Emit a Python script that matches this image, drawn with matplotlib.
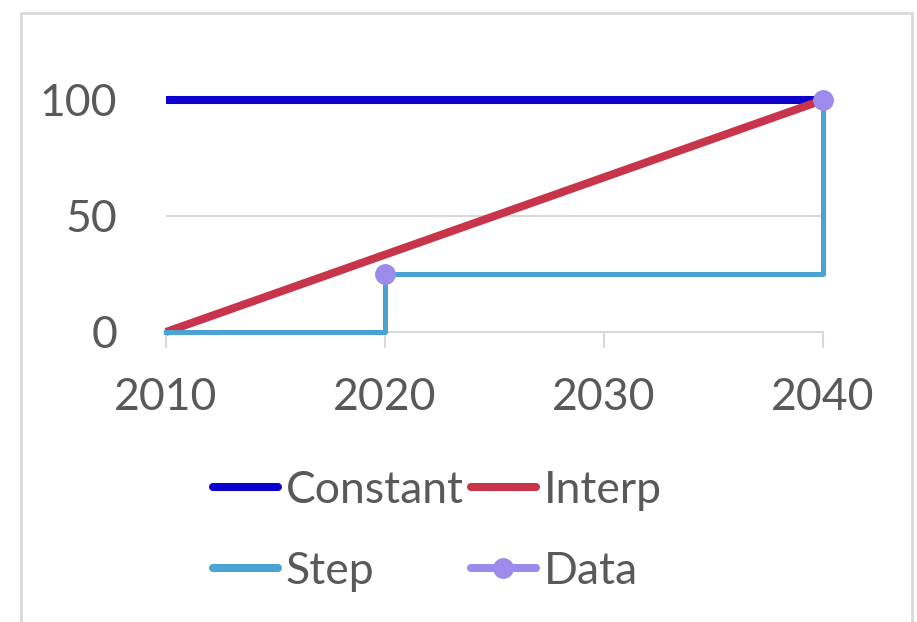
import matplotlib
matplotlib.use("Agg")
import matplotlib.pyplot as plt
from matplotlib.lines import Line2D
from matplotlib.patches import Rectangle

plt.rcParams["font.family"] = ["Lato", "DejaVu Sans"]

years = [2010, 2040]
constant = [100, 100]
interp = [0, 100]
step_x = [2010, 2020, 2040]
step_y = [0, 25, 100]
data_x = [2020, 2040]
data_y = [25, 100]
xticks = [2010, 2020, 2030, 2040]
yticks = [0, 50, 100]

W, H = 917, 622
fig = plt.figure(figsize=(W / 100, H / 100), dpi=100)
fig.patches.append(Rectangle((21 / W, -0.05), (912 - 21) / W, 1.05 - 13 / H,
                             transform=fig.transFigure, fill=False,
                             edgecolor="#D9D9D9", lw=2))

ax = fig.add_axes([166 / W, 1 - 332 / H, (823 - 166) / W, (332 - 100) / H])
ax.set_xlim(2010, 2040)
ax.set_ylim(0, 100)

grey = "#D9D9D9"
txt = "#595959"
for y in yticks[1:]:
    ax.axhline(y, color=grey, lw=1.5, zorder=0)

ax.plot(years, constant, color="#0B00CC", lw=5.8, solid_capstyle="butt", zorder=2, clip_on=False)
ax.plot(years, interp, color="#C8344A", lw=5.8, solid_capstyle="butt", zorder=3, clip_on=False)
ax.step(step_x, step_y, where="post", color="#4BA3D3", lw=3.6, zorder=4, clip_on=False)
ax.plot(data_x, data_y, "o", color="#9D8BEB", ms=14, zorder=5, clip_on=False)

for s in ["top", "right", "left"]:
    ax.spines[s].set_visible(False)
ax.spines["bottom"].set_color(grey)
ax.spines["bottom"].set_linewidth(1.5)
ax.spines["bottom"].set_zorder(1)

ax.set_xticks(xticks)
ax.set_yticks(yticks)
ax.tick_params(axis="x", length=11.5, width=1.5, color=grey, pad=21,
               labelsize=32, labelcolor=txt)
ax.tick_params(axis="y", length=0, pad=35, labelsize=32, labelcolor=txt)

handles = [
    Line2D([], [], color="#0B00CC", lw=5.8, solid_capstyle="round"),
    Line2D([], [], color="#4BA3D3", lw=5.8, solid_capstyle="round"),
    Line2D([], [], color="#C8344A", lw=5.8, solid_capstyle="round"),
    Line2D([], [], color="#9D8BEB", lw=5.8, marker="o", ms=14, solid_capstyle="round"),
]
labels = ["Constant", "Step", "Interp", "Data"]
fig.legend(handles, labels, ncol=2, loc="center", bbox_to_anchor=(437 / W, 1 - 531 / H),
           frameon=False, fontsize=32, labelcolor=txt, handlelength=1.48,
           handletextpad=0.16, columnspacing=0.16, labelspacing=0.9,
           borderpad=0, numpoints=1)

fig.savefig("out.png", dpi=100)
